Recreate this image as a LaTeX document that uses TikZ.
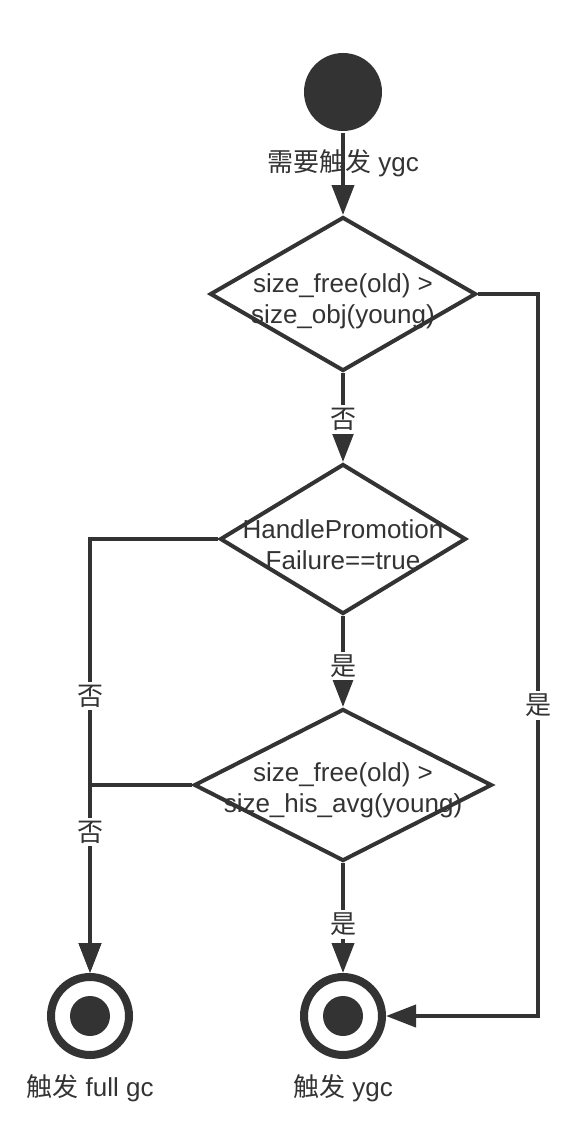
\documentclass[tikz,border=0pt]{standalone}
\usepackage{fontspec}
\setmainfont{Liberation Sans}
\newfontfamily\cjk{Noto Sans CJK SC}
\usetikzlibrary{shapes.geometric,arrows.meta}
\definecolor{ink}{HTML}{333333}

\begin{document}
\begin{tikzpicture}[x=1pt,y=-1pt,color=ink,line width=4pt,
  txt/.style={font=\fontsize{26pt}{31pt}\selectfont, text=ink, align=center, inner sep=0pt},
  cjklabel/.style={font=\fontsize{26pt}{31pt}\selectfont\cjk, text=ink, fill=white, inner sep=3pt},
  decision/.style={diamond, draw, line width=4pt, inner sep=0pt},
  startdot/.style={circle, fill, inner sep=0pt, minimum size=78pt},
  endring/.style={circle, draw, line width=8pt, inner sep=0pt, minimum size=78pt},
  enddot/.style={circle, fill, inner sep=0pt, minimum size=40pt},
  flowarrow/.style={draw, line width=4pt, -{Triangle[length=30pt,width=22pt]}}]

\useasboundingbox (0,0) rectangle (587,1132);

% start state
\node[startdot] (start) at (343,92) {};

% decisions
\node[decision, minimum width=266pt, minimum height=154pt] (d1) at (343,294) {};
\node[txt] (d1t) at (343,301) {size\_free(old) >\\size\_obj(young)};

\node[decision, minimum width=246pt, minimum height=150pt] (d2) at (343,539) {};
\node[txt] (d2t) at (343,545) {HandlePromotion\\Failure==true};

\node[decision, minimum width=298pt, minimum height=152pt] (d3) at (343,785) {};
\node[txt] (d3t) at (343,790) {size\_free(old) >\\size\_his\_avg(young)};

% final states
\node[endring] (e1) at (90,1016) {};
\node[enddot] (e1dot) at (e1) {};
\node[txt] (e1t) at (90,1088) {{\cjk 触发} full gc};

\node[endring] (e2) at (343,1016) {};
\node[enddot] (e2dot) at (e2) {};
\node[txt] (e2t) at (343,1088) {{\cjk 触发} ygc};

\coordinate (rc) at (538,1016);

% connectors
\draw[flowarrow] (start) -- (d1.north);
\node[txt] (startlbl) at (343,163) {{\cjk 需要触发} ygc};

\draw[flowarrow] (d1.south) -- node[cjklabel, pos=0.52] (l1) {否} (d2.north);
\draw[flowarrow] (d2.south) -- node[cjklabel, pos=0.55] (l2) {是} (d3.north);
\draw[flowarrow] (d3.south) -- node[cjklabel, pos=0.56] (l3) {是} (e2.north);

\draw[flowarrow] (d2.west) -| node[cjklabel, pos=0.681] (l4) {否} (e1.north);
\draw[flowarrow] (d3.west) -| node[cjklabel, pos=0.625] (l5) {否} (e1.north);

\draw[flowarrow] (d1.east) -| node[cjklabel, pos=0.785] (l6) {是} (rc) -- (e2.east);

\end{tikzpicture}
\end{document}
